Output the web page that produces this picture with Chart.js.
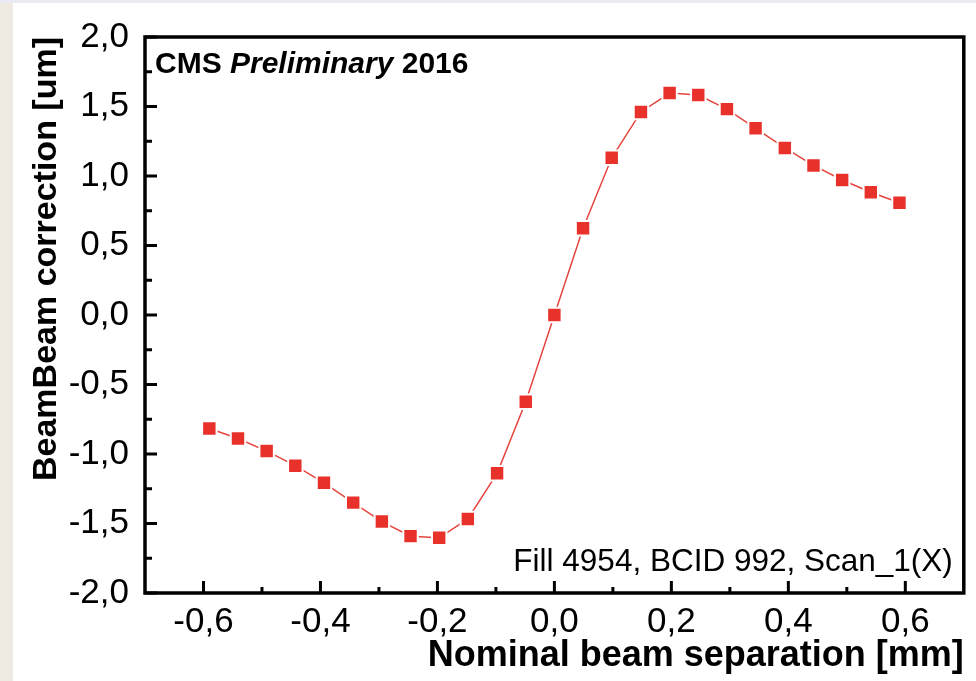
<!DOCTYPE html>
<html>
<head>
<meta charset="utf-8">
<script src="https://cdn.jsdelivr.net/npm/chart.js@4/dist/chart.umd.min.js"></script>
<style>
  html, body { margin: 0; padding: 0; background: #ffffff; }
  #wrap { position: relative; width: 976px; height: 681px; overflow: hidden; background: #ffffff; }
  #wrap::before { content: ""; position: absolute; left: 0; top: 0; width: 13px; height: 681px; background: #efeae2; z-index: 2; }
  #wrap::after { content: ""; position: absolute; left: 0; top: 0; width: 976px; height: 3px; background: #ebebf3; z-index: 2; }
  canvas { display: block; }
</style>
</head>
<body>
<div id="wrap"><canvas id="c" width="976" height="681"></canvas></div>
<script>
// Nominal beam separation [mm]
const separation = [-0.590, -0.541, -0.492, -0.443, -0.394, -0.344, -0.295, -0.246, -0.197, -0.148, -0.098, -0.049,
  0.000, 0.049, 0.098, 0.148, 0.197, 0.246, 0.295, 0.344, 0.394, 0.443, 0.492, 0.541, 0.590];
// Beam-beam correction [um]
const correction = [-0.817, -0.889, -0.979, -1.084, -1.207, -1.350, -1.486, -1.591, -1.603, -1.467, -1.139, -0.624,
  0.000, 0.624, 1.131, 1.461, 1.597, 1.583, 1.481, 1.343, 1.202, 1.076, 0.971, 0.883, 0.807];

const xTicks = [-0.6, -0.4, -0.2, 0.0, 0.2, 0.4, 0.6];
const xMinorTicks = [-0.5, -0.3, -0.1, 0.1, 0.3, 0.5];
const yTicks = [-2.0, -1.5, -1.0, -0.5, 0.0, 0.5, 1.0, 1.5, 2.0];
const yMinorTicks = [-1.75, -1.25, -0.75, -0.25, 0.25, 0.75, 1.25, 1.75];

const xTitle = 'Nominal beam separation [mm]';
const yTitle = 'BeamBeam correction [um]';
const infoText = 'Fill 4954, BCID 992, Scan_1(X)';

const FONT = '"Liberation Sans", Arial, Helvetica, sans-serif';
const comma = v => Number(v).toFixed(1).replace('.', ',');

// Closed frame around the plot plus inward-pointing major/minor ticks
const framePlugin = {
  id: 'frame',
  afterDatasetsDraw(chart) {
    const { ctx, chartArea: a, scales: { x, y } } = chart;
    ctx.save();
    ctx.strokeStyle = '#000';
    ctx.lineCap = 'butt';
    ctx.lineWidth = 3;
    const tick = (px, py, dx, dy) => { ctx.beginPath(); ctx.moveTo(px, py); ctx.lineTo(px + dx, py + dy); ctx.stroke(); };
    xTicks.forEach(v => tick(x.getPixelForValue(v), a.bottom, 0, -12));
    xMinorTicks.forEach(v => tick(x.getPixelForValue(v), a.bottom, 0, -6));
    yTicks.forEach(v => tick(a.left, y.getPixelForValue(v), 12, 0));
    yMinorTicks.forEach(v => tick(a.left, y.getPixelForValue(v), 7, 0));
    ctx.lineWidth = 3.5;
    ctx.strokeRect(a.left, a.top, a.right - a.left, a.bottom - a.top);

    // Header and run information
    ctx.fillStyle = '#000';
    ctx.textBaseline = 'middle';
    ctx.textAlign = 'left';
    let tx = a.left + 10;
    const ty = a.top + 28;
    ctx.font = 'bold 30px ' + FONT;
    ctx.fillText('CMS ', tx, ty); tx += ctx.measureText('CMS ').width;
    ctx.font = 'italic bold 30px ' + FONT;
    ctx.fillText('Preliminary', tx, ty); tx += ctx.measureText('Preliminary ').width;
    ctx.font = 'bold 30px ' + FONT;
    ctx.fillText('2016', tx, ty);

    ctx.font = '31.5px ' + FONT;
    ctx.textAlign = 'right';
    ctx.fillText(infoText, a.right - 11, a.bottom - 31);
    ctx.restore();
  }
};

new Chart(document.getElementById('c'), {
  type: 'line',
  data: {
    datasets: [{
      data: separation.map((s, i) => ({ x: s, y: correction[i] })),
      borderColor: '#e4463f',
      borderWidth: 1.5,
      backgroundColor: '#e8312a',
      pointStyle: 'rect',
      pointRadius: 10.2,
      pointBorderColor: '#ffffff',
      pointBorderWidth: 2,
      tension: 0
    }]
  },
  options: {
    responsive: false,
    animation: false,
    layout: { padding: { left: 0, right: 9, top: 33, bottom: 0 } },
    plugins: { legend: { display: false }, tooltip: { enabled: false } },
    scales: {
      x: {
        type: 'linear',
        min: -0.7,
        max: 0.7,
        afterBuildTicks: s => { s.ticks = xTicks.map(v => ({ value: v })); },
        afterFit: s => { s.height = 88; },
        grid: { display: false, drawTicks: false },
        border: { display: false },
        ticks: { color: '#000', padding: 8, maxRotation: 0, autoSkip: false,
                 font: { family: FONT, size: 35 }, callback: v => comma(v) },
        title: { display: true, text: xTitle, align: 'end', color: '#000',
                 font: { family: FONT, size: 36, weight: 'bold' }, padding: { top: 0, bottom: 3 } }
      },
      y: {
        type: 'linear',
        min: -2,
        max: 2,
        afterBuildTicks: s => { s.ticks = yTicks.map(v => ({ value: v })); },
        afterFit: s => { s.width = 145; },
        grid: { display: false, drawTicks: false },
        border: { display: false },
        ticks: { color: '#000', padding: 16, autoSkip: false,
                 font: { family: FONT, size: 35 }, callback: v => comma(v) },
        title: { display: true, text: yTitle, align: 'end', color: '#000',
                 font: { family: FONT, size: 34, weight: 'bold' }, padding: { top: 26, bottom: 0 } }
      }
    }
  },
  plugins: [framePlugin]
});
</script>
</body>
</html>
